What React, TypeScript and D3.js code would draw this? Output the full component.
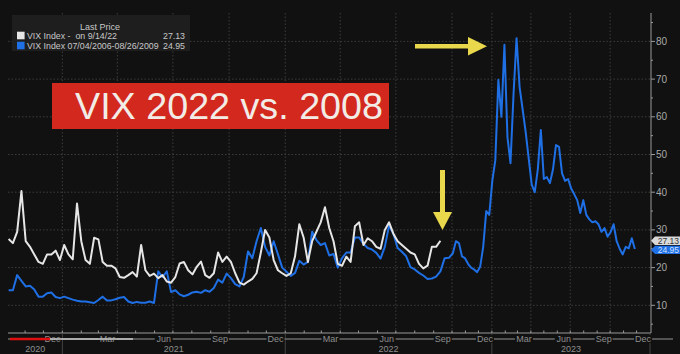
import React from 'react';
import * as d3 from 'd3';

const W = 680;
const H = 354;

// weekly closes, "VIX Index - on 9/14/22"
const whiteStart = '2020-10-05';
const whiteValues = [
  27.6, 26.5, 29.5, 40.3, 27, 25.5, 23.5, 21.5, 21, 23.5,
  23.5, 24.5, 22, 26, 23.5, 22.2, 37, 27, 22, 21,
  27.9, 27.5, 21.5, 20.5, 20.5, 19.8, 17.5, 17.3, 18, 18.8,
  17.6, 26, 19.3, 17.8, 18.4, 17.2, 18, 16.3, 16, 17.5,
  21.1, 21.5, 19.3, 18.2, 20.2, 21.6, 18, 17.3, 18.5, 24,
  21.5, 22.9, 21.5, 18.5, 16, 15.5, 16.3, 17, 18.5, 24,
  30, 28, 22, 19.3, 18.5, 17.8, 18.5, 23, 31.5, 28,
  21.5, 27, 29.5, 32, 36, 30.5, 27, 21, 20.5, 22.9,
  21.5, 31, 32, 26, 27.8, 27, 25.5, 25, 30, 32,
  29, 27, 26, 25, 24, 23.5, 21, 19.8, 20.5, 25.5,
  25.5, 27.13,
];

// weekly closes, "VIX Index 07/04/2006-08/26/2009", shifted onto the same axis
const blueStart = '2020-10-05';
const blueValues = [
  14, 14, 18, 16.5, 15, 15.2, 14.2, 12.3, 12.3, 13.2,
  13.4, 12.2, 11.9, 12.3, 11.9, 11.5, 11.2, 11, 11, 10.8,
  10.6, 11.4, 12.3, 11.3, 11.3, 11.6, 12, 12.2, 11, 10.6,
  10.9, 10.7, 10.7, 11, 10.6, 19, 17.5, 19, 13.5, 14,
  12.9, 12.4, 12.8, 13.4, 13.6, 13.3, 14, 13.6, 14.6, 16.8,
  16, 18.4, 17.2, 15.6, 15, 17.5, 24.3, 22.5, 27, 30.5,
  25.5, 23.2, 27, 23.5, 20, 18.9, 17.8, 18.6, 21.8, 20.8,
  21.5, 29.5, 27.3, 26, 26.5, 23.2, 23.6, 20, 22.5, 24,
  24, 28, 28, 26.3, 25.2, 24.8, 23.9, 22.4, 25.5, 31.2,
  29, 25.2, 24.2, 23, 20.1, 19.5, 18.6, 17.9, 17, 17.1,
  17.6, 19, 22.5, 22.6, 23.8, 27, 26.5, 23, 22.5, 21,
  20, 19.5, 18.8, 20.2, 25.5, 35, 34, 43, 48.5, 69.8,
  60, 79.1, 54.6, 47.7, 66, 80.86, 67.9, 62, 56, 49,
  42, 40, 46, 56.5, 43.5, 44, 42.4, 46, 52.5, 52,
  45, 43, 43.5, 41, 39.5, 37.9, 34.5, 37.9, 34, 32.8,
  32, 32.3, 31.5, 29.5, 30.5, 28.2, 29.4, 31.5, 27, 25,
  23.5, 25.5, 25.1, 27.8, 24.95,
];

const yTicks = [10, 20, 30, 40, 50, 60, 70, 80];
const yMinorTicks = [5, 15, 25, 35, 45, 55, 65, 75, 85];
const yearLabels = ['2020', '2021', '2022', '2023'];

const legendRows = [
  { name: 'VIX Index -  on 9/14/22', last: '27.13', color: '#e6e6e6' },
  { name: 'VIX Index 07/04/2006-08/26/2009', last: '24.95', color: '#1f6fe5' },
];

const parse = d3.timeParse('%Y-%m-%d');

export default function App() {
  const top = 13;
  const bottom = 333;
  const left = 8;
  const right = 651;

  // the axis is compressed after Sep 2022, as in the terminal screenshot
  const x = d3
    .scaleTime()
    .domain([new Date(2020, 9, 4), new Date(2022, 9, 1), new Date(2024, 0, 1)])
    .range([left, 452, 650]);
  const y = d3.scaleLinear().domain([0, 80]).range([343, 41.4]);

  const series = (start: string, vals: number[]) => {
    const s = parse(start) as Date;
    return vals.map((v, i) => ({ date: d3.timeDay.offset(s, 7 * i), v }));
  };
  const white = series(whiteStart, whiteValues);
  const blue = series(blueStart, blueValues);

  const line = d3
    .line<{ date: Date; v: number }>()
    .x((d) => x(d.date))
    .y((d) => y(d.v));

  const gridMonths = d3.timeMonth.range(new Date(2021, 0, 1), new Date(2024, 0, 1), 3);
  const labelMonths = d3.timeMonth.range(new Date(2020, 11, 1), new Date(2024, 0, 1), 3);
  const allMonths = d3.timeMonth.range(new Date(2020, 9, 1), new Date(2024, 0, 1));
  const yearBounds = [new Date(2021, 0, 1), new Date(2022, 0, 1), new Date(2023, 0, 1), new Date(2024, 0, 1)];
  const yearEdges = [left, ...yearBounds.map((d) => x(d))];
  const fmt = d3.timeFormat('%b');

  const font = '"Liberation Sans", Arial, sans-serif';
  const bandY = 339;

  const lastW = whiteValues[whiteValues.length - 1];
  const lastB = blueValues[blueValues.length - 1];
  const tagW = y(lastW);
  const tagB = Math.max(y(lastB), tagW + 9.2);

  const tag = (c: number) =>
    `${right},${c} ${right + 4},${c - 4.2} ${W},${c - 4.2} ${W},${c + 4.2} ${right + 4},${c + 4.2}`;

  return (
    <svg
      width={W}
      height={H}
      style={{ position: 'absolute', left: 0, top: 0, display: 'block' }}
      fontFamily={font}
    >
      <rect width={W} height={H} fill="#111111" />

      {/* grid */}
      {yTicks.map((t) => (
        <line key={'h' + t} x1={left} x2={right} y1={y(t)} y2={y(t)} stroke="#3d3d3d" strokeDasharray="1.5,2" />
      ))}
      {gridMonths.map((d) => (
        <line key={'v' + d.getTime()} x1={x(d)} x2={x(d)} y1={top} y2={bottom} stroke="#3d3d3d" strokeDasharray="1.5,2" />
      ))}

      {/* series */}
      <path d={line(blue) || ''} fill="none" stroke="#1f6fe5" strokeWidth={2} strokeLinejoin="round" />
      <path d={line(white) || ''} fill="none" stroke="#e6e6e6" strokeWidth={2} strokeLinejoin="round" />

      {/* right axis */}
      <line x1={right} x2={right} y1={top} y2={bottom} stroke="#9a9a9a" />
      {yTicks.map((t) => (
        <g key={'yt' + t}>
          <line x1={right} x2={right + 4} y1={y(t)} y2={y(t)} stroke="#9a9a9a" />
          <text x={right + 5} y={y(t)} dy="0.35em" fontSize={10} fill="#a8a8a8">
            {t}
          </text>
        </g>
      ))}
      {yMinorTicks.map((t) => (
        <line key={'ym' + t} x1={right} x2={right + 2} y1={y(t)} y2={y(t)} stroke="#9a9a9a" />
      ))}

      {/* last price tags */}
      <polygon points={tag(tagW)} fill="#d9d9d9" />
      <text x={W - 1} y={tagW} dy="0.35em" fontSize={8.5} fill="#333" textAnchor="end">
        {lastW.toFixed(2)}
      </text>
      <polygon points={tag(tagB)} fill="#1f6fe5" />
      <text x={W - 1} y={tagB} dy="0.35em" fontSize={8.5} fill="#cfe0ff" textAnchor="end">
        {lastB.toFixed(2)}
      </text>

      {/* bottom axis */}
      <line x1={left} x2={right} y1={bottom} y2={bottom} stroke="#9a9a9a" />
      {allMonths
        .filter((d) => x(d) >= left)
        .map((d) => (
          <line key={'mt' + d.getTime()} x1={x(d)} x2={x(d)} y1={bottom} y2={bottom - 2.5} stroke="#9a9a9a" />
        ))}
      {yearBounds.map((d) => (
        <line key={'ys' + d.getTime()} x1={x(d)} x2={x(d)} y1={bottom} y2={H} stroke="#444" />
      ))}
      <line x1={left} x2={673} y1={bandY} y2={bandY} stroke="#6a6a6a" strokeWidth={1.5} />
      {labelMonths.map((d) => {
        const cx = x(d3.timeDay.offset(d, 15));
        return (
          <g key={'ml' + d.getTime()}>
            <rect x={cx - 9} y={bandY - 4} width={18} height={8} fill="#111111" />
            <text x={cx} y={bandY} dy="0.35em" fontSize={9} fill="#8e8e8e" textAnchor="middle">
              {fmt(d)}
            </text>
          </g>
        );
      })}
      <line x1={10} x2={50} y1={bandY} y2={bandY} stroke="#e01010" strokeWidth={2.5} />
      <line x1={50} x2={133} y1={bandY} y2={bandY} stroke="#bdbdbd" strokeWidth={2} opacity={0.85} />
      {yearLabels.map((lab, i) => (
        <text
          key={lab}
          x={(yearEdges[i] + yearEdges[i + 1]) / 2}
          y={349}
          dy="0.35em"
          fontSize={9}
          fill="#8e8e8e"
          textAnchor="middle"
        >
          {lab}
        </text>
      ))}

      {/* legend */}
      <rect x={12} y={15} width={178} height={36} fill="#1e1e1e" />
      <text x={100} y={26.5} dy="0.35em" fontSize={9} fill="#c8c8c8" textAnchor="middle">
        Last Price
      </text>
      {legendRows.map((r, i) => (
        <g key={r.name}>
          <rect x={17} y={31.7 + i * 10} width={7.6} height={7.6} fill={r.color} />
          <text x={27} y={35.5 + i * 10} dy="0.35em" fontSize={8.8} fill="#c8c8c8" xmlSpace="preserve">
            {r.name}
          </text>
          <text x={185} y={35.5 + i * 10} dy="0.35em" fontSize={8.8} fill="#c8c8c8" textAnchor="end">
            {r.last}
          </text>
        </g>
      ))}

      {/* annotation */}
      <rect x={52} y={83} width={337} height={46} fill="#d3281e" />
      <text x={75} y={118.5} fontSize={37} fill="#f2ece6" textLength={308} lengthAdjust="spacingAndGlyphs">
        VIX 2022 vs. 2008
      </text>

      {/* yellow arrows */}
      <rect x={415} y={44} width={55} height={4.5} fill="#e9d84b" />
      <polygon points="468,37 487,46.2 468,55.5" fill="#e9d84b" />
      <rect x={440} y={170} width={5} height={43} fill="#e9d84b" />
      <polygon points="433,212 452,212 442.5,230" fill="#e9d84b" />
    </svg>
  );
}
